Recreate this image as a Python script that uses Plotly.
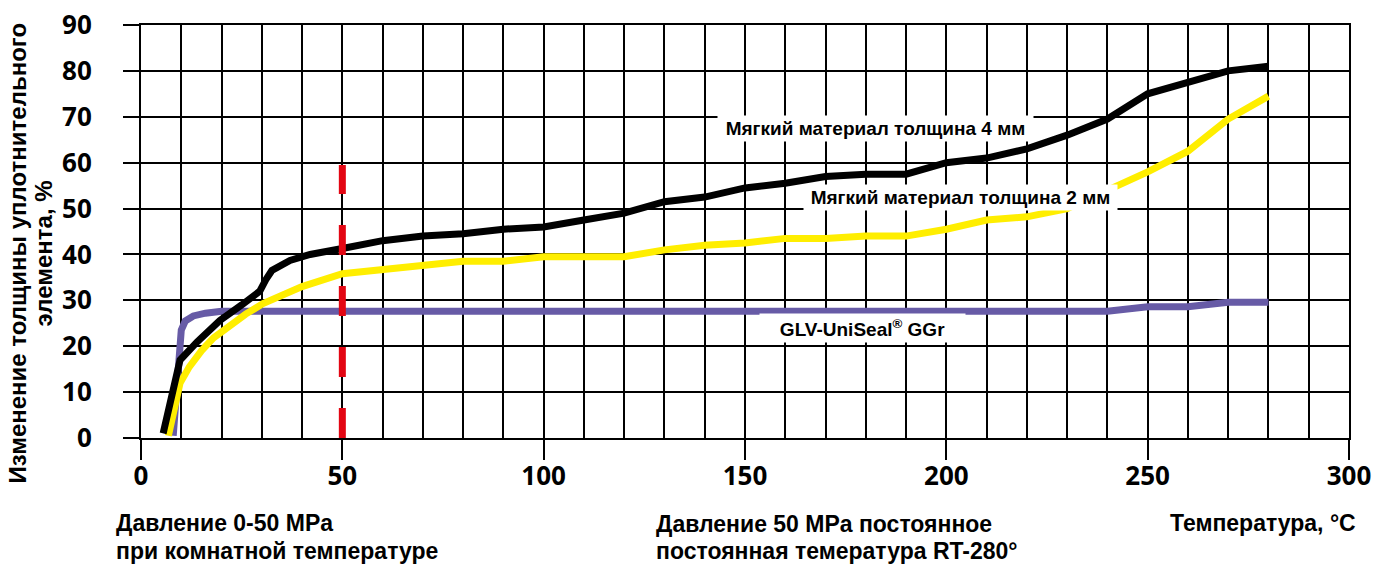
import plotly.graph_objects as go

# ---- data ----
black_x = [5.5, 9.7, 14, 19.6, 25, 29.5, 31, 32.5, 37, 42, 50, 60, 70, 80, 90, 100, 110, 120, 130,
           140, 150, 160, 170, 180, 190, 200, 210, 220, 230, 240, 250, 260, 270, 280]
black_y = [1, 17, 21, 25.6, 29, 32, 34.5, 36.5, 38.7, 40, 41.3, 43, 44, 44.5, 45.5, 46, 47.5, 49, 51.5,
           52.5, 54.5, 55.5, 57, 57.5, 57.5, 60, 61, 63, 66, 69.5, 75, 77.5, 80, 81]

yellow_x = [6.8, 9.7, 12, 15, 18, 22, 26, 30.3, 35, 40, 50, 60, 70, 80, 90, 100, 110, 120, 130,
            140, 150, 160, 170, 180, 190, 200, 210, 220, 230, 240, 250, 260, 270, 280]
yellow_y = [0.5, 12, 15.5, 19, 21.8, 24.5, 27, 29.3, 31.2, 33, 35.8, 36.7, 37.5, 38.5, 38.5, 39.5, 39.5, 39.5, 41,
            42, 42.5, 43.5, 43.5, 44, 44, 45.5, 47.5, 48.2, 50, 54, 58, 62.5, 69.5, 74.5]

purple_x = [8, 9.3, 10, 11, 13, 16, 20, 30, 240, 250, 260, 270, 280]
purple_y = [0.5, 18, 23.5, 25.5, 26.6, 27.2, 27.6, 27.6, 27.6, 28.6, 28.6, 29.6, 29.6]

red_x = [50, 50]
red_y = [0, 59.5]

x_ticks = [0, 50, 100, 150, 200, 250, 300]
y_ticks = [0, 10, 20, 30, 40, 50, 60, 70, 80, 90]

label_4mm = "Мягкий материал толщина 4 мм"
label_2mm = "Мягкий материал толщина 2 мм"
label_glv = "GLV-UniSeal<sup>®</sup> GGr"
y_title_1 = "Изменение толщины уплотнительного"
y_title_2 = "элемента, %"
bottom_1a = "Давление 0-50 MPa"
bottom_1b = "при комнатной температуре"
bottom_2a = "Давление 50 MPa постоянное"
bottom_2b = "постоянная темература RT-280°"
bottom_3 = "Температура, °C"

# ---- figure ----
fig = go.Figure()
fig.add_trace(go.Scatter(x=purple_x, y=purple_y, mode="lines",
                         line=dict(color="#675ba6", width=7), showlegend=False))
fig.add_trace(go.Scatter(x=yellow_x, y=yellow_y, mode="lines",
                         line=dict(color="#ffee00", width=7), showlegend=False))
fig.add_trace(go.Scatter(x=black_x, y=black_y, mode="lines",
                         line=dict(color="#000000", width=7), showlegend=False))
fig.add_trace(go.Scatter(x=red_x, y=red_y, mode="lines",
                         line=dict(color="#e30613", width=7, dash="30px,31px"), showlegend=False))

txt_font = dict(family="Liberation Sans, Arial, sans-serif", size=23, color="black", weight="bold")
lbl_font = dict(family="Liberation Sans, Arial, sans-serif", size=19, color="black", weight="bold")

ann = []
ann.append(dict(x=182.4, y=67.4, xref="x", yref="y", text=label_4mm, showarrow=False,
                font=lbl_font, bgcolor="white", borderpad=2, width=311))
ann.append(dict(x=203.6, y=52.4, xref="x", yref="y", text=label_2mm, showarrow=False,
                font=lbl_font, bgcolor="white", borderpad=2, width=309))
ann.append(dict(x=179.2, y=23.9, xref="x", yref="y", text=label_glv, showarrow=False,
                font=lbl_font, bgcolor="white", borderpad=2, width=201))
ann.append(dict(x=-0.1026, y=0.447, xref="paper", yref="paper", text=y_title_1, showarrow=False,
                textangle=-90, font=dict(txt_font, size=24), xanchor="center", yanchor="middle"))
ann.append(dict(x=-0.0811, y=0.447, xref="paper", yref="paper", text=y_title_2, showarrow=False,
                textangle=-90, font=dict(txt_font, size=24), xanchor="center", yanchor="middle"))
ann.append(dict(x=-0.0224, y=-0.2055, xref="paper", yref="paper", text=bottom_1a, showarrow=False,
                font=txt_font, xanchor="left", yanchor="middle"))
ann.append(dict(x=-0.0224, y=-0.2735, xref="paper", yref="paper", text=bottom_1b, showarrow=False,
                font=txt_font, xanchor="left", yanchor="middle"))
ann.append(dict(x=0.4247, y=-0.2075, xref="paper", yref="paper", text=bottom_2a, showarrow=False,
                font=txt_font, xanchor="left", yanchor="middle"))
ann.append(dict(x=0.4247, y=-0.2735, xref="paper", yref="paper", text=bottom_2b, showarrow=False,
                font=txt_font, xanchor="left", yanchor="middle"))
ann.append(dict(x=1.0075, y=-0.2055, xref="paper", yref="paper", text=bottom_3, showarrow=False,
                font=txt_font, xanchor="right", yanchor="middle"))

tick_font = dict(family="Open Sans, sans-serif", size=26, color="black", weight="bold")

fig.update_layout(
    width=1375, height=565,
    margin=dict(l=141, r=26, t=25, b=127),
    paper_bgcolor="white", plot_bgcolor="white",
    annotations=ann,
    xaxis=dict(range=[0, 300], tickvals=x_ticks, ticks="outside", ticklen=20, tickwidth=2,
               tickcolor="black", showgrid=True, gridcolor="black", gridwidth=2,
               minor=dict(dtick=10, showgrid=True, gridcolor="black", gridwidth=2),
               showline=True, linecolor="black", linewidth=2, mirror=True, zeroline=False,
               tickfont=tick_font, ticklabelstandoff=-6, automargin=False),
    yaxis=dict(range=[0, 90], tickvals=y_ticks, ticks="outside", ticklen=16, tickwidth=2,
               tickcolor="black", showgrid=True, gridcolor="black", gridwidth=2,
               showline=True, linecolor="black", linewidth=2, mirror=True, zeroline=False,
               tickfont=tick_font, ticklabelstandoff=26, automargin=False),
)

fig.write_html("out.html")
